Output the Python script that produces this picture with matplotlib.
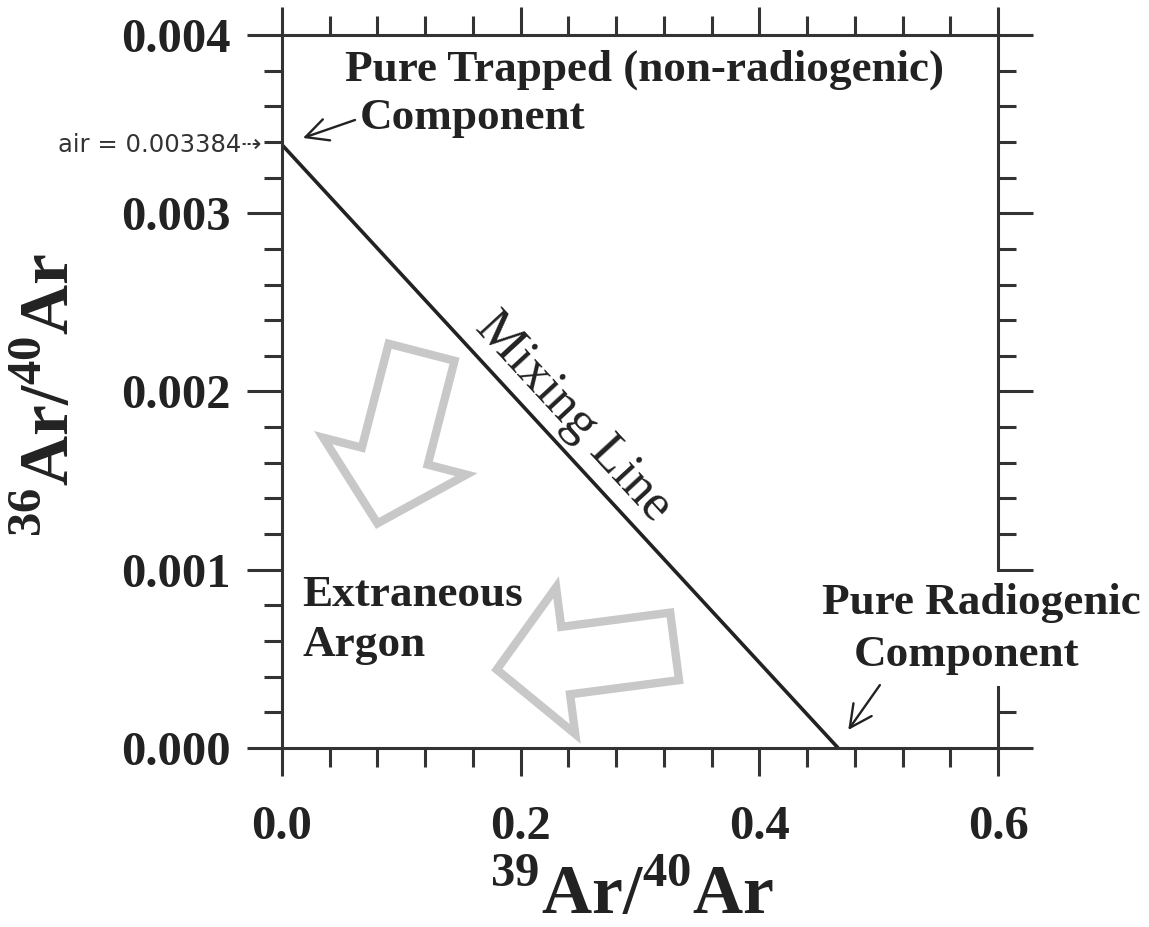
import numpy as np
import matplotlib
matplotlib.use('Agg')
import matplotlib.pyplot as plt
from matplotlib.ticker import FixedLocator, MultipleLocator, FormatStrFormatter

# isochron end-members
air_ratio = 0.003384        # 36Ar/40Ar of atmospheric argon
radiogenic_x = 0.466        # 39Ar/40Ar of pure radiogenic argon
mixing_x = [0.0, radiogenic_x]
mixing_y = [air_ratio, 0.0]

x_major = [0.0, 0.2, 0.4, 0.6]
y_major = [0.000, 0.001, 0.002, 0.003, 0.004]

# hollow shift arrows (tail, tip) for extraneous argon
shift_arrows = [((0.117, 0.00222), (0.080, 0.00126)),
                ((0.329, 0.00057), (0.180, 0.00044))]

ink = '#222222'
plt.rcParams['font.family'] = 'Liberation Serif'
plt.rcParams['font.weight'] = 'bold'
plt.rcParams['text.color'] = ink
plt.rcParams['mathtext.fontset'] = 'custom'
plt.rcParams['mathtext.rm'] = 'Liberation Serif:bold'
plt.rcParams['mathtext.bf'] = 'Liberation Serif:bold'

fig = plt.figure(figsize=(11.49, 9.27), dpi=100)
ax = fig.add_axes([0.2454, 0.1931, 0.6232, 0.7692])
ax.set_xlim(0, 0.6)
ax.set_ylim(0, 0.004)

ax.plot(mixing_x, mixing_y, color=ink, lw=2.6, solid_capstyle='butt')

for s in ax.spines.values():
    s.set_linewidth(2.2)
    s.set_color('#333333')

ax.xaxis.set_major_locator(FixedLocator(x_major))
ax.yaxis.set_major_locator(FixedLocator(y_major))
ax.xaxis.set_minor_locator(MultipleLocator(0.04))
ax.yaxis.set_minor_locator(MultipleLocator(0.0002))
ax.xaxis.set_major_formatter(FormatStrFormatter('%.1f'))
ax.yaxis.set_major_formatter(FormatStrFormatter('%.3f'))
ax.tick_params(which='both', direction='out', top=True, right=True,
               width=2.2, color='#333333', labelcolor=ink)
ax.tick_params(axis='x', which='major', length=20, pad=21, labelsize=35)
ax.tick_params(axis='x', which='minor', length=14)
ax.tick_params(axis='y', which='major', length=25, pad=12, labelsize=35)
ax.tick_params(axis='y', which='minor', length=13)

# axis titles
fig.text(632 / 1149, 13 / 927, r'$^{39}$Ar/$^{40}$Ar', ha='center',
         va='baseline', fontsize=50)
fig.text(52 / 1149, 1 - 395 / 927, r'$^{36}$Ar/$^{40}$Ar', rotation=90,
         ha='center', va='center', fontsize=50)

# end-member labels
ax.text(0.304, 0.003804, 'Pure Trapped (non-radiogenic)', ha='center',
        va='center', fontsize=32.5)
ax.text(0.1595, 0.003534, 'Component', ha='center', va='center', fontsize=32.5)
ax.annotate('', xy=(0.0176, 0.003422), xytext=(0.0612, 0.003523),
            arrowprops=dict(arrowstyle='->,head_length=0.8,head_width=0.4',
                            mutation_scale=20, lw=1.7, color=ink,
                            shrinkA=0, shrinkB=0))

ax.text(0.586, 0.000813, 'Pure Radiogenic', ha='center', va='center',
        fontsize=32.5, bbox=dict(facecolor='white', edgecolor='none', pad=8))
ax.text(0.574, 0.000522, 'Component', ha='center', va='center',
        fontsize=32.5, bbox=dict(facecolor='white', edgecolor='none', pad=8))
ax.annotate('', xy=(0.4745, 0.000101), xytext=(0.501, 0.000353),
            arrowprops=dict(arrowstyle='->,head_length=0.8,head_width=0.4',
                            mutation_scale=20, lw=1.7, color=ink,
                            shrinkA=0, shrinkB=0))

ax.text(-0.028, air_ratio, 'air = 0.003384\u21e2', transform=ax.get_yaxis_transform(),
        ha='right', va='center', fontsize=17.5, fontweight='normal',
        family='DejaVu Sans', color='#333333')

# label along the mixing line
angle = np.degrees(np.arctan2(-air_ratio, radiogenic_x))
screen_angle = ax.transData.transform_angles(np.array([angle]),
                                             np.array([[0.24, 0.0019]]))[0]
ax.text(0.2439, 0.001857, 'Mixing Line', rotation=screen_angle,
        rotation_mode='anchor', ha='center', va='center', fontsize=38,
        fontweight='normal')

ax.text(0.0168, 0.000718, 'Extraneous\nArgon', ha='left', va='center',
        linespacing=1.3, fontsize=32.5)

for tail, tip in shift_arrows:
    ax.annotate('', xy=tip, xytext=tail,
                arrowprops=dict(arrowstyle='simple,head_length=1.0,head_width=2.13,tail_width=0.98',
                                mutation_scale=50, fc='none', ec='#c8c8c8',
                                lw=6.0, shrinkA=0, shrinkB=0, joinstyle='miter'))

fig.savefig('out.png', dpi=100, facecolor='white')
